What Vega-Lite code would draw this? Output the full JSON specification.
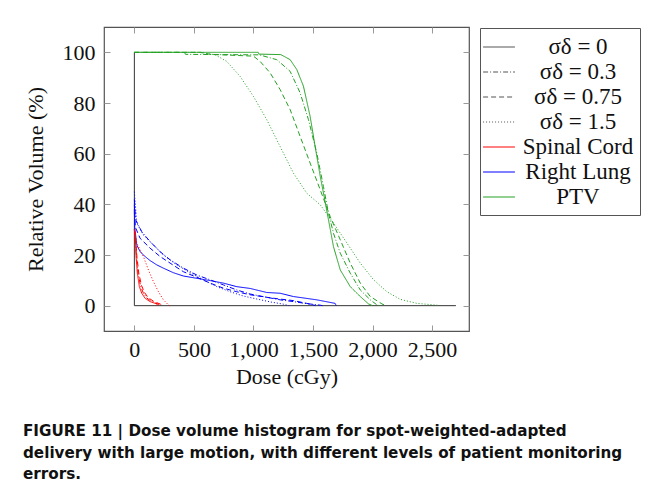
{
  "$schema": "https://vega.github.io/schema/vega-lite/v6.json",
  "autosize": "none",
  "width": 365,
  "height": 304,
  "padding": {"left": 104, "top": 27, "right": 185, "bottom": 167},
  "background": "white",
  "config": {
    "view": {"stroke": "#555", "strokeWidth": 1.2},
    "font": "Liberation Serif",
    "axis": {
      "domain": false, "grid": false, "tickSize": -6, "tickColor": "#999", "tickWidth": 1,
      "labelFont": "Liberation Serif", "labelFontSize": 22, "labelColor": "#111",
      "titleFont": "Liberation Serif", "titleFontSize": 22, "titleFontWeight": "normal", "titleColor": "#111"
    },
    "legend": {
      "orient": "none", "legendX": 376, "legendY": 1,
      "strokeColor": "#555", "padding": 6, "fillColor": "white",
      "labelFont": "Liberation Serif", "labelFontSize": 23, "labelColor": "#111",
      "labelAlign": "center", "labelOffset": 66, "labelBaseline": "middle",
      "symbolType": "M-1.3,0H1.3", "symbolSize": 600, "symbolStrokeWidth": 1.2, "rowPadding": 0
    }
  },
  "title": {
    "text": ["FIGURE 11 | Dose volume histogram for spot-weighted-adapted", "delivery with large motion, with different levels of patient monitoring", "errors."],
    "orient": "bottom", "anchor": "start", "frame": "group", "dx": -81, "offset": 37,
    "font": "DejaVu Sans", "fontWeight": "bold", "fontSize": 15.2, "lineHeight": 21.5, "color": "#111", "baseline": "top"
  },
  "datasets": {
    "frame": [
      {"x": 0, "y": 0, "x2": 0, "y2": 100},
      {"x": 0, "y": 0, "x2": 2700, "y2": 0}
    ],
    "curves": [
      {"organ": "PTV", "sigma": "0", "dose": 0, "vol": 100},
      {"organ": "PTV", "sigma": "0", "dose": 1040, "vol": 100},
      {"organ": "PTV", "sigma": "0", "dose": 1045, "vol": 99.3},
      {"organ": "PTV", "sigma": "0", "dose": 1230, "vol": 99.1},
      {"organ": "PTV", "sigma": "0", "dose": 1308, "vol": 97.1},
      {"organ": "PTV", "sigma": "0", "dose": 1364, "vol": 93.2},
      {"organ": "PTV", "sigma": "0", "dose": 1420, "vol": 86.6},
      {"organ": "PTV", "sigma": "0", "dose": 1476, "vol": 74.7},
      {"organ": "PTV", "sigma": "0", "dose": 1518, "vol": 62.8},
      {"organ": "PTV", "sigma": "0", "dose": 1561, "vol": 51},
      {"organ": "PTV", "sigma": "0", "dose": 1594, "vol": 43},
      {"organ": "PTV", "sigma": "0", "dose": 1630, "vol": 33.9},
      {"organ": "PTV", "sigma": "0", "dose": 1672, "vol": 23.3},
      {"organ": "PTV", "sigma": "0", "dose": 1729, "vol": 14.1},
      {"organ": "PTV", "sigma": "0", "dose": 1813, "vol": 7.5},
      {"organ": "PTV", "sigma": "0", "dose": 1897, "vol": 3.6},
      {"organ": "PTV", "sigma": "0", "dose": 1966, "vol": 0.7},
      {"organ": "PTV", "sigma": "0", "dose": 2000, "vol": 0},

      {"organ": "PTV", "sigma": "0.3", "dose": 0, "vol": 100},
      {"organ": "PTV", "sigma": "0.3", "dose": 420, "vol": 100},
      {"organ": "PTV", "sigma": "0.3", "dose": 430, "vol": 99.2},
      {"organ": "PTV", "sigma": "0.3", "dose": 1050, "vol": 99.0},
      {"organ": "PTV", "sigma": "0.3", "dose": 1196, "vol": 97.1},
      {"organ": "PTV", "sigma": "0.3", "dose": 1308, "vol": 92.5},
      {"organ": "PTV", "sigma": "0.3", "dose": 1392, "vol": 84},
      {"organ": "PTV", "sigma": "0.3", "dose": 1462, "vol": 73.4},
      {"organ": "PTV", "sigma": "0.3", "dose": 1532, "vol": 60.2},
      {"organ": "PTV", "sigma": "0.3", "dose": 1588, "vol": 47},
      {"organ": "PTV", "sigma": "0.3", "dose": 1630, "vol": 36.5},
      {"organ": "PTV", "sigma": "0.3", "dose": 1672, "vol": 28.6},
      {"organ": "PTV", "sigma": "0.3", "dose": 1729, "vol": 20.7},
      {"organ": "PTV", "sigma": "0.3", "dose": 1813, "vol": 12.8},
      {"organ": "PTV", "sigma": "0.3", "dose": 1897, "vol": 6.2},
      {"organ": "PTV", "sigma": "0.3", "dose": 1981, "vol": 2.3},
      {"organ": "PTV", "sigma": "0.3", "dose": 2037, "vol": 0.3},
      {"organ": "PTV", "sigma": "0.3", "dose": 2060, "vol": 0},

      {"organ": "PTV", "sigma": "0.75", "dose": 0, "vol": 100},
      {"organ": "PTV", "sigma": "0.75", "dose": 550, "vol": 100},
      {"organ": "PTV", "sigma": "0.75", "dose": 640, "vol": 99.2},
      {"organ": "PTV", "sigma": "0.75", "dose": 1000, "vol": 98.5},
      {"organ": "PTV", "sigma": "0.75", "dose": 1056, "vol": 96.4},
      {"organ": "PTV", "sigma": "0.75", "dose": 1140, "vol": 91.9},
      {"organ": "PTV", "sigma": "0.75", "dose": 1224, "vol": 85.3},
      {"organ": "PTV", "sigma": "0.75", "dose": 1308, "vol": 77.4},
      {"organ": "PTV", "sigma": "0.75", "dose": 1392, "vol": 66.8},
      {"organ": "PTV", "sigma": "0.75", "dose": 1476, "vol": 56.3},
      {"organ": "PTV", "sigma": "0.75", "dose": 1561, "vol": 45.7},
      {"organ": "PTV", "sigma": "0.75", "dose": 1644, "vol": 35.2},
      {"organ": "PTV", "sigma": "0.75", "dose": 1729, "vol": 26},
      {"organ": "PTV", "sigma": "0.75", "dose": 1813, "vol": 16.8},
      {"organ": "PTV", "sigma": "0.75", "dose": 1897, "vol": 8.9},
      {"organ": "PTV", "sigma": "0.75", "dose": 1981, "vol": 3.6},
      {"organ": "PTV", "sigma": "0.75", "dose": 2079, "vol": 0.7},
      {"organ": "PTV", "sigma": "0.75", "dose": 2110, "vol": 0},

      {"organ": "PTV", "sigma": "1.5", "dose": 0, "vol": 100},
      {"organ": "PTV", "sigma": "1.5", "dose": 560, "vol": 100},
      {"organ": "PTV", "sigma": "1.5", "dose": 680, "vol": 99.0},
      {"organ": "PTV", "sigma": "1.5", "dose": 776, "vol": 96.4},
      {"organ": "PTV", "sigma": "1.5", "dose": 888, "vol": 90.5},
      {"organ": "PTV", "sigma": "1.5", "dose": 1000, "vol": 82.6},
      {"organ": "PTV", "sigma": "1.5", "dose": 1112, "vol": 73.4},
      {"organ": "PTV", "sigma": "1.5", "dose": 1224, "vol": 62.8},
      {"organ": "PTV", "sigma": "1.5", "dose": 1336, "vol": 52.3},
      {"organ": "PTV", "sigma": "1.5", "dose": 1448, "vol": 44.4},
      {"organ": "PTV", "sigma": "1.5", "dose": 1561, "vol": 39.8},
      {"organ": "PTV", "sigma": "1.5", "dose": 1672, "vol": 32.6},
      {"organ": "PTV", "sigma": "1.5", "dose": 1785, "vol": 24.7},
      {"organ": "PTV", "sigma": "1.5", "dose": 1897, "vol": 16.8},
      {"organ": "PTV", "sigma": "1.5", "dose": 2009, "vol": 10.2},
      {"organ": "PTV", "sigma": "1.5", "dose": 2121, "vol": 5.5},
      {"organ": "PTV", "sigma": "1.5", "dose": 2233, "vol": 2.5},
      {"organ": "PTV", "sigma": "1.5", "dose": 2373, "vol": 0.9},
      {"organ": "PTV", "sigma": "1.5", "dose": 2541, "vol": 0.2},
      {"organ": "PTV", "sigma": "1.5", "dose": 2560, "vol": 0},

      {"organ": "Right Lung", "sigma": "0", "dose": 0, "vol": 38},
      {"organ": "Right Lung", "sigma": "0", "dose": 3, "vol": 31},
      {"organ": "Right Lung", "sigma": "0", "dose": 20, "vol": 24},
      {"organ": "Right Lung", "sigma": "0", "dose": 48, "vol": 21.3},
      {"organ": "Right Lung", "sigma": "0", "dose": 90, "vol": 19.4},
      {"organ": "Right Lung", "sigma": "0", "dose": 132, "vol": 17.8},
      {"organ": "Right Lung", "sigma": "0", "dose": 188, "vol": 16.1},
      {"organ": "Right Lung", "sigma": "0", "dose": 244, "vol": 14.8},
      {"organ": "Right Lung", "sigma": "0", "dose": 328, "vol": 13.0},
      {"organ": "Right Lung", "sigma": "0", "dose": 412, "vol": 11.7},
      {"organ": "Right Lung", "sigma": "0", "dose": 524, "vol": 10.8},
      {"organ": "Right Lung", "sigma": "0", "dose": 636, "vol": 9.9},
      {"organ": "Right Lung", "sigma": "0", "dose": 748, "vol": 8.9},
      {"organ": "Right Lung", "sigma": "0", "dose": 860, "vol": 7.5},
      {"organ": "Right Lung", "sigma": "0", "dose": 972, "vol": 6.8},
      {"organ": "Right Lung", "sigma": "0", "dose": 1112, "vol": 5.2},
      {"organ": "Right Lung", "sigma": "0", "dose": 1224, "vol": 4.9},
      {"organ": "Right Lung", "sigma": "0", "dose": 1336, "vol": 3.6},
      {"organ": "Right Lung", "sigma": "0", "dose": 1532, "vol": 2.3},
      {"organ": "Right Lung", "sigma": "0", "dose": 1686, "vol": 0.9},
      {"organ": "Right Lung", "sigma": "0", "dose": 1695, "vol": 0},

      {"organ": "Right Lung", "sigma": "0.3", "dose": 0, "vol": 42},
      {"organ": "Right Lung", "sigma": "0.3", "dose": 10, "vol": 34},
      {"organ": "Right Lung", "sigma": "0.3", "dose": 62, "vol": 29.2},
      {"organ": "Right Lung", "sigma": "0.3", "dose": 132, "vol": 25.3},
      {"organ": "Right Lung", "sigma": "0.3", "dose": 216, "vol": 21.3},
      {"organ": "Right Lung", "sigma": "0.3", "dose": 300, "vol": 18.1},
      {"organ": "Right Lung", "sigma": "0.3", "dose": 412, "vol": 14.8},
      {"organ": "Right Lung", "sigma": "0.3", "dose": 524, "vol": 12.1},
      {"organ": "Right Lung", "sigma": "0.3", "dose": 636, "vol": 10.2},
      {"organ": "Right Lung", "sigma": "0.3", "dose": 748, "vol": 8.2},
      {"organ": "Right Lung", "sigma": "0.3", "dose": 860, "vol": 6.2},
      {"organ": "Right Lung", "sigma": "0.3", "dose": 972, "vol": 4.6},
      {"organ": "Right Lung", "sigma": "0.3", "dose": 1112, "vol": 3.3},
      {"organ": "Right Lung", "sigma": "0.3", "dose": 1224, "vol": 2.3},
      {"organ": "Right Lung", "sigma": "0.3", "dose": 1336, "vol": 1.6},
      {"organ": "Right Lung", "sigma": "0.3", "dose": 1448, "vol": 0.8},
      {"organ": "Right Lung", "sigma": "0.3", "dose": 1560, "vol": 0.2},
      {"organ": "Right Lung", "sigma": "0.3", "dose": 1580, "vol": 0},

      {"organ": "Right Lung", "sigma": "0.75", "dose": 0, "vol": 40},
      {"organ": "Right Lung", "sigma": "0.75", "dose": 8, "vol": 31},
      {"organ": "Right Lung", "sigma": "0.75", "dose": 48, "vol": 26.6},
      {"organ": "Right Lung", "sigma": "0.75", "dose": 132, "vol": 22.7},
      {"organ": "Right Lung", "sigma": "0.75", "dose": 216, "vol": 19.4},
      {"organ": "Right Lung", "sigma": "0.75", "dose": 300, "vol": 16.8},
      {"organ": "Right Lung", "sigma": "0.75", "dose": 412, "vol": 13.4},
      {"organ": "Right Lung", "sigma": "0.75", "dose": 524, "vol": 11.2},
      {"organ": "Right Lung", "sigma": "0.75", "dose": 636, "vol": 8.9},
      {"organ": "Right Lung", "sigma": "0.75", "dose": 748, "vol": 6.9},
      {"organ": "Right Lung", "sigma": "0.75", "dose": 860, "vol": 5.5},
      {"organ": "Right Lung", "sigma": "0.75", "dose": 972, "vol": 4.3},
      {"organ": "Right Lung", "sigma": "0.75", "dose": 1112, "vol": 3.3},
      {"organ": "Right Lung", "sigma": "0.75", "dose": 1224, "vol": 2.6},
      {"organ": "Right Lung", "sigma": "0.75", "dose": 1336, "vol": 2.0},
      {"organ": "Right Lung", "sigma": "0.75", "dose": 1448, "vol": 0.9},
      {"organ": "Right Lung", "sigma": "0.75", "dose": 1500, "vol": 0.3},
      {"organ": "Right Lung", "sigma": "0.75", "dose": 1520, "vol": 0},

      {"organ": "Right Lung", "sigma": "1.5", "dose": 0, "vol": 45},
      {"organ": "Right Lung", "sigma": "1.5", "dose": 20, "vol": 32.6},
      {"organ": "Right Lung", "sigma": "1.5", "dose": 76, "vol": 27.9},
      {"organ": "Right Lung", "sigma": "1.5", "dose": 160, "vol": 24},
      {"organ": "Right Lung", "sigma": "1.5", "dose": 244, "vol": 20},
      {"organ": "Right Lung", "sigma": "1.5", "dose": 356, "vol": 16.1},
      {"organ": "Right Lung", "sigma": "1.5", "dose": 468, "vol": 13},
      {"organ": "Right Lung", "sigma": "1.5", "dose": 580, "vol": 10.2},
      {"organ": "Right Lung", "sigma": "1.5", "dose": 692, "vol": 7.5},
      {"organ": "Right Lung", "sigma": "1.5", "dose": 804, "vol": 5.5},
      {"organ": "Right Lung", "sigma": "1.5", "dose": 916, "vol": 3.8},
      {"organ": "Right Lung", "sigma": "1.5", "dose": 1030, "vol": 2.6},
      {"organ": "Right Lung", "sigma": "1.5", "dose": 1140, "vol": 1.5},
      {"organ": "Right Lung", "sigma": "1.5", "dose": 1250, "vol": 0.6},
      {"organ": "Right Lung", "sigma": "1.5", "dose": 1300, "vol": 0},

      {"organ": "Spinal Cord", "sigma": "0", "dose": 0, "vol": 30},
      {"organ": "Spinal Cord", "sigma": "0", "dose": 6, "vol": 28},
      {"organ": "Spinal Cord", "sigma": "0", "dose": 14, "vol": 19.4},
      {"organ": "Spinal Cord", "sigma": "0", "dose": 25, "vol": 12.8},
      {"organ": "Spinal Cord", "sigma": "0", "dose": 42, "vol": 7.5},
      {"organ": "Spinal Cord", "sigma": "0", "dose": 62, "vol": 4.9},
      {"organ": "Spinal Cord", "sigma": "0", "dose": 90, "vol": 2.9},
      {"organ": "Spinal Cord", "sigma": "0", "dose": 132, "vol": 1.6},
      {"organ": "Spinal Cord", "sigma": "0", "dose": 188, "vol": 0.7},
      {"organ": "Spinal Cord", "sigma": "0", "dose": 195, "vol": 0},

      {"organ": "Spinal Cord", "sigma": "0.3", "dose": 0, "vol": 30},
      {"organ": "Spinal Cord", "sigma": "0.3", "dose": 8, "vol": 27},
      {"organ": "Spinal Cord", "sigma": "0.3", "dose": 18, "vol": 19},
      {"organ": "Spinal Cord", "sigma": "0.3", "dose": 32, "vol": 12.5},
      {"organ": "Spinal Cord", "sigma": "0.3", "dose": 52, "vol": 7.8},
      {"organ": "Spinal Cord", "sigma": "0.3", "dose": 75, "vol": 5},
      {"organ": "Spinal Cord", "sigma": "0.3", "dose": 105, "vol": 3},
      {"organ": "Spinal Cord", "sigma": "0.3", "dose": 150, "vol": 1.5},
      {"organ": "Spinal Cord", "sigma": "0.3", "dose": 205, "vol": 0.5},
      {"organ": "Spinal Cord", "sigma": "0.3", "dose": 215, "vol": 0},

      {"organ": "Spinal Cord", "sigma": "0.75", "dose": 0, "vol": 30},
      {"organ": "Spinal Cord", "sigma": "0.75", "dose": 10, "vol": 27},
      {"organ": "Spinal Cord", "sigma": "0.75", "dose": 22, "vol": 19},
      {"organ": "Spinal Cord", "sigma": "0.75", "dose": 38, "vol": 12.5},
      {"organ": "Spinal Cord", "sigma": "0.75", "dose": 60, "vol": 8},
      {"organ": "Spinal Cord", "sigma": "0.75", "dose": 85, "vol": 5.2},
      {"organ": "Spinal Cord", "sigma": "0.75", "dose": 115, "vol": 3.2},
      {"organ": "Spinal Cord", "sigma": "0.75", "dose": 165, "vol": 1.6},
      {"organ": "Spinal Cord", "sigma": "0.75", "dose": 220, "vol": 0.6},
      {"organ": "Spinal Cord", "sigma": "0.75", "dose": 230, "vol": 0},

      {"organ": "Spinal Cord", "sigma": "1.5", "dose": 0, "vol": 30},
      {"organ": "Spinal Cord", "sigma": "1.5", "dose": 20, "vol": 24.7},
      {"organ": "Spinal Cord", "sigma": "1.5", "dose": 76, "vol": 19.4},
      {"organ": "Spinal Cord", "sigma": "1.5", "dose": 118, "vol": 14.1},
      {"organ": "Spinal Cord", "sigma": "1.5", "dose": 160, "vol": 9.5},
      {"organ": "Spinal Cord", "sigma": "1.5", "dose": 202, "vol": 5.5},
      {"organ": "Spinal Cord", "sigma": "1.5", "dose": 244, "vol": 2.3},
      {"organ": "Spinal Cord", "sigma": "1.5", "dose": 286, "vol": 0.3},
      {"organ": "Spinal Cord", "sigma": "1.5", "dose": 295, "vol": 0}
    ],
    "legendEntries": [
      {"entry": "σδ = 0"},
      {"entry": "σδ = 0.3"},
      {"entry": "σδ = 0.75"},
      {"entry": "σδ = 1.5"},
      {"entry": "Spinal Cord"},
      {"entry": "Right Lung"},
      {"entry": "PTV"}
    ]
  },
  "layer": [
    {
      "data": {"name": "frame"},
      "mark": {"type": "rule", "color": "#333", "strokeWidth": 1},
      "encoding": {
        "x": {"field": "x", "type": "quantitative", "scale": {"domain": [-255, 2810], "nice": false, "zero": false},
              "axis": {"orient": "top", "labels": false, "title": null, "values": [0, 500, 1000, 1500, 2000, 2500]}},
        "y": {"field": "y", "type": "quantitative", "scale": {"domain": [-10, 110], "nice": false, "zero": false},
              "axis": {"orient": "right", "labels": false, "title": null, "values": [0, 20, 40, 60, 80, 100]}},
        "x2": {"field": "x2"},
        "y2": {"field": "y2"}
      }
    },
    {
      "data": {"name": "curves"},
      "mark": {"type": "line", "strokeWidth": 1, "clip": true},
      "encoding": {
        "x": {"field": "dose", "type": "quantitative",
              "axis": {"orient": "bottom", "title": "Dose (cGy)", "values": [0, 500, 1000, 1500, 2000, 2500], "format": ",d", "labelPadding": 14, "titlePadding": 6}},
        "y": {"field": "vol", "type": "quantitative",
              "axis": {"orient": "left", "title": "Relative Volume (%)", "values": [0, 20, 40, 60, 80, 100], "labelPadding": 15, "titlePadding": 15}},
        "color": {"field": "organ", "type": "nominal", "legend": null,
                  "scale": {"domain": ["Spinal Cord", "Right Lung", "PTV"], "range": ["#ff0000", "#0000ff", "#22a022"]}},
        "strokeDash": {"field": "sigma", "type": "nominal", "legend": null,
                       "scale": {"domain": ["0", "0.3", "0.75", "1.5"], "range": [[1, 0], [5, 2, 1, 2], [5, 3], [1, 2]]}},
        "order": {"field": "dose", "type": "quantitative"}
      }
    },
    {
      "data": {"name": "legendEntries"},
      "mark": {"type": "line", "strokeWidth": 1.2},
      "encoding": {
        "x": {"field": "dose", "type": "quantitative", "axis": null},
        "y": {"field": "vol", "type": "quantitative", "axis": null},
        "color": {"field": "entry", "type": "nominal", "title": null,
                  "scale": {"domain": ["σδ = 0", "σδ = 0.3", "σδ = 0.75", "σδ = 1.5", "Spinal Cord", "Right Lung", "PTV"],
                            "range": ["#555", "#555", "#555", "#555", "#ff0000", "#0000ff", "#22a022"]}},
        "strokeDash": {"field": "entry", "type": "nominal", "title": null,
                       "scale": {"domain": ["σδ = 0", "σδ = 0.3", "σδ = 0.75", "σδ = 1.5", "Spinal Cord", "Right Lung", "PTV"],
                                 "range": [[1, 0], [5, 2, 1, 2], [5, 3], [1, 2], [1, 0], [1, 0], [1, 0]]}}
      }
    }
  ],
  "resolve": {
    "scale": {"color": "independent", "strokeDash": "independent"},
    "axis": {"x": "independent", "y": "independent"}
  }
}
